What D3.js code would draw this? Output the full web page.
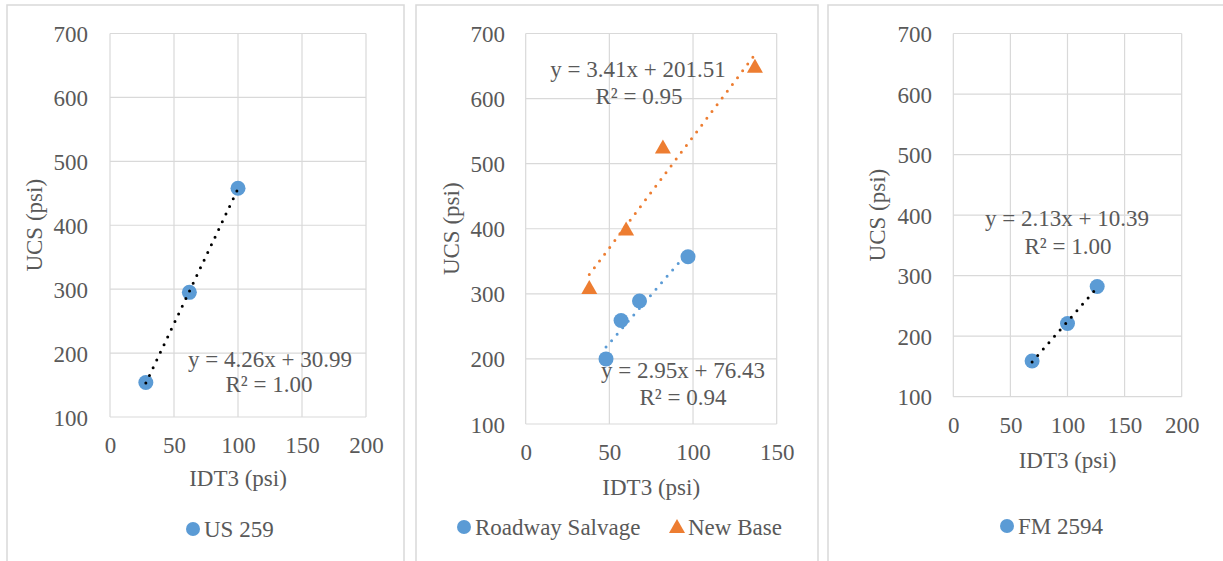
<!DOCTYPE html>
<html><head><meta charset="utf-8">
<script src="https://cdn.jsdelivr.net/npm/d3@7"></script>
<style>
html,body{margin:0;padding:0;background:#fff;}
svg text{font-family:"Liberation Serif","Times New Roman",Tinos,"DejaVu Serif",serif !important;fill:#595959;}
</style></head>
<body>
<svg id="c" width="1223" height="561"></svg>
<script>
// ---- data ----
const xTicks1 = [0, 50, 100, 150, 200];
const xTicks2 = [0, 50, 100, 150];
const yTicks = [100, 200, 300, 400, 500, 600, 700];

const us259X = [28, 62, 100];
const us259Y = [154, 295, 458];

const salvageX = [48, 57, 68, 97];
const salvageY = [200, 259, 289, 357];

const newBaseX = [38, 60, 82, 137];
const newBaseY = [309, 399, 525, 649];

const fm2594X = [69, 100, 126];
const fm2594Y = [159, 221, 282];

const seriesNames = ["US 259", "Roadway Salvage", "New Base", "FM 2594"];
const fitText = [
  ["y = 4.26x + 30.99", "R² = 1.00"],
  ["y = 2.95x + 76.43", "R² = 0.94"],
  ["y = 3.41x + 201.51", "R² = 0.95"],
  ["y = 2.13x + 10.39", "R² = 1.00"]
];

const BLUE = "#5B9BD5", ORANGE = "#ED7D31";
const FS = 23;

const svg = d3.select("#c");

// panel frames
const frames = [[7, 5, 404], [416, 5, 818], [828, 5, 1240]];
frames.forEach(([x0, y0, x1]) => {
  svg.append("path")
    .attr("d", `M${x0},580 V${y0} H${x1} V580`)
    .attr("fill", "none").attr("stroke", "#d9d9d9").attr("stroke-width", 1.5);
});

function fit(xs, ys) {
  const n = xs.length, mx = d3.mean(xs), my = d3.mean(ys);
  let sxy = 0, sxx = 0;
  for (let i = 0; i < n; i++) { sxy += (xs[i] - mx) * (ys[i] - my); sxx += (xs[i] - mx) ** 2; }
  const b = sxy / sxx; return { b, a: my - b * mx };
}

function trend(g, x, y, s, f) {
  const x0 = d3.min(s.xs), x1 = d3.max(s.xs);
  g.append("line")
    .attr("x1", x(x0)).attr("y1", y(f.a + f.b * x0))
    .attr("x2", x(x1)).attr("y2", y(f.a + f.b * x1))
    .attr("stroke", s.lineColor).attr("stroke-width", 3)
    .attr("stroke-dasharray", "0 8.5").attr("stroke-linecap", "round");
}

function panel(cfg) {
  const x = d3.scaleLinear().domain([0, cfg.xmax]).range([cfg.left, cfg.right]);
  const y = d3.scaleLinear().domain([100, 700]).range([cfg.bottom, cfg.top]);
  const g = svg.append("g");
  // grid
  g.selectAll(".gx").data(cfg.xticks).join("line")
    .attr("x1", d => x(d)).attr("x2", d => x(d)).attr("y1", cfg.top).attr("y2", cfg.bottom)
    .attr("stroke", "#d9d9d9").attr("stroke-width", 1.2);
  g.selectAll(".gy").data(yTicks).join("line")
    .attr("y1", d => y(d)).attr("y2", d => y(d)).attr("x1", cfg.left).attr("x2", cfg.right)
    .attr("stroke", "#d9d9d9").attr("stroke-width", 1.2);
  // axes (labels only)
  const ax = g.append("g").attr("transform", `translate(0,${cfg.bottom})`)
    .call(d3.axisBottom(x).tickValues(cfg.xticks).tickSize(0).tickPadding(0));
  ax.attr("font-family", null).attr("font-size", null);
  ax.select(".domain").remove();
  ax.selectAll("text").attr("y", cfg.xlabY - cfg.bottom).attr("dy", 0)
    .style("font-size", FS + "px").attr("fill", "#595959");
  const ay = g.append("g").attr("transform", `translate(${cfg.ylabX},0)`)
    .call(d3.axisLeft(y).tickValues(yTicks).tickSize(0).tickPadding(0));
  ay.attr("font-family", null).attr("font-size", null);
  ay.select(".domain").remove();
  ay.selectAll("text").attr("x", 0).attr("dy", "0.35em")
    .style("font-size", FS + "px").attr("fill", "#595959");
  // axis titles
  g.append("text").attr("x", (cfg.left + cfg.right) / 2).attr("y", cfg.xtitleY)
    .attr("text-anchor", "middle").style("font-size", FS + "px").text("IDT3 (psi)");
  g.append("text").attr("transform", `translate(${cfg.ytitleX},${(cfg.top + cfg.bottom) / 2}) rotate(-90)`)
    .attr("text-anchor", "middle").style("font-size", FS + "px").text("UCS (psi)");
  // series
  cfg.series.forEach(s => {
    const f = fit(s.xs, s.ys);
    if (!s.lineOnTop) trend(g, x, y, s, f);
    const pts = s.xs.map((v, i) => [v, s.ys[i]]);
    if (s.shape === "circle") {
      g.selectAll(null).data(pts).join("circle")
        .attr("cx", d => x(d[0])).attr("cy", d => y(d[1])).attr("r", 7.5).attr("fill", s.color);
    } else {
      g.selectAll(null).data(pts).join("path")
        .attr("transform", d => `translate(${x(d[0])},${y(d[1])})`)
        .attr("d", "M0,-8 L8,6 L-8,6 Z").attr("fill", s.color);
    }
    if (s.lineOnTop) trend(g, x, y, s, f);
    s.labels.forEach(L => {
      g.append("text").attr("x", L.x).attr("y", L.y).attr("text-anchor", "middle")
        .style("font-size", FS + "px").text(L.t);
    });
  });
  // legend
  cfg.legend.forEach(l => {
    if (l.shape === "circle") {
      g.append("circle").attr("cx", l.x).attr("cy", cfg.legY).attr("r", 7).attr("fill", l.color);
    } else {
      g.append("path").attr("transform", `translate(${l.x},${cfg.legY})`)
        .attr("d", "M0,-8 L8,6 L-8,6 Z").attr("fill", l.color);
    }
    g.append("text").attr("x", l.x + 11).attr("y", cfg.legY + 8)
      .style("font-size", FS + "px").text(l.name);
  });
}

panel({
  left: 110, right: 366, top: 33.5, bottom: 417, xmax: 200, xticks: xTicks1,
  ylabX: 88, xlabY: 453, xtitleY: 486, ytitleX: 42,
  series: [{ xs: us259X, ys: us259Y, color: BLUE, shape: "circle", lineColor: "#000", lineOnTop: true,
    labels: [{ x: 270, y: 367, t: fitText[0][0] }, { x: 269, y: 392, t: fitText[0][1] }] }],
  legY: 529, legend: [{ x: 193, color: BLUE, shape: "circle", name: seriesNames[0] }]
});

panel({
  left: 525.7, right: 776.7, top: 33.5, bottom: 424, xmax: 150, xticks: xTicks2,
  ylabX: 505, xlabY: 460, xtitleY: 495, ytitleX: 459,
  series: [
    { xs: salvageX, ys: salvageY, color: BLUE, shape: "circle", lineColor: BLUE, lineOnTop: false,
      labels: [{ x: 683, y: 378, t: fitText[1][0] }, { x: 683, y: 405, t: fitText[1][1] }] },
    { xs: newBaseX, ys: newBaseY, color: ORANGE, shape: "tri", lineColor: ORANGE, lineOnTop: false,
      labels: [{ x: 638, y: 77, t: fitText[2][0] }, { x: 639, y: 104, t: fitText[2][1] }] }
  ],
  legY: 527, legend: [
    { x: 464, color: BLUE, shape: "circle", name: seriesNames[1] },
    { x: 677, color: ORANGE, shape: "tri", name: seriesNames[2] }
  ]
});

panel({
  left: 953.3, right: 1181.7, top: 33.5, bottom: 396.7, xmax: 200, xticks: xTicks1,
  ylabX: 932, xlabY: 433, xtitleY: 468, ytitleX: 885,
  series: [{ xs: fm2594X, ys: fm2594Y, color: BLUE, shape: "circle", lineColor: "#000", lineOnTop: true,
    labels: [{ x: 1067, y: 226, t: fitText[3][0] }, { x: 1068, y: 254, t: fitText[3][1] }] }],
  legY: 526, legend: [{ x: 1007, color: BLUE, shape: "circle", name: seriesNames[3] }]
});
</script>
</body></html>
